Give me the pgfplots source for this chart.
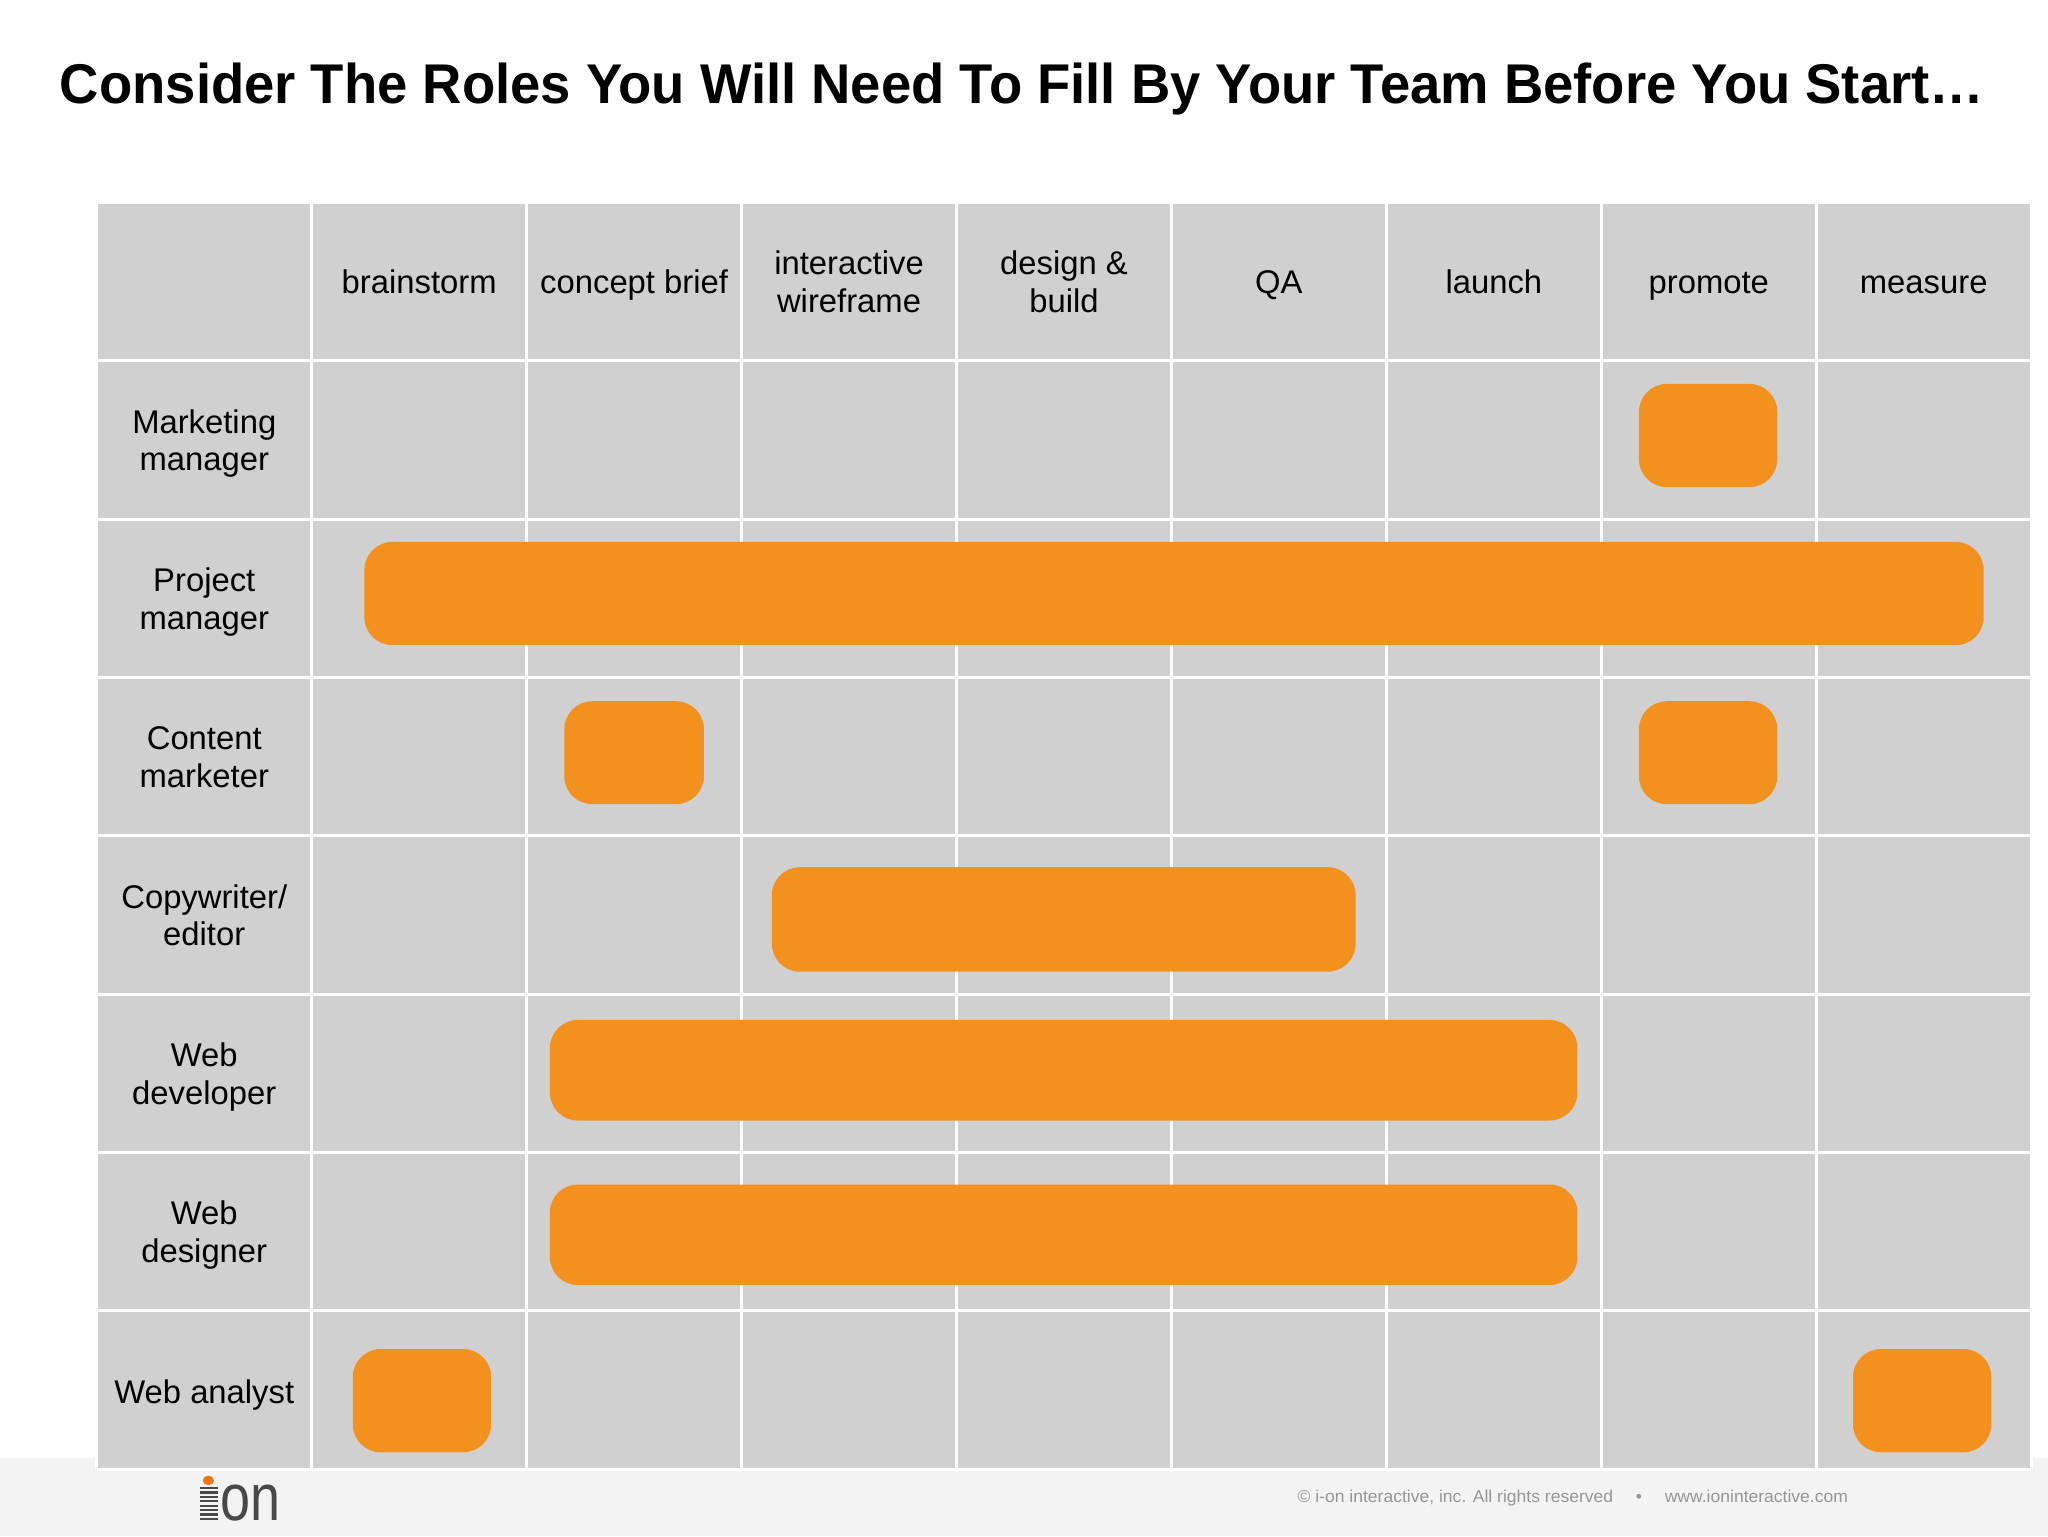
\documentclass[border=0pt]{standalone}
\usepackage{fontspec}
\setmainfont{Liberation Sans}
\usepackage{pgfplots}
\pgfplotsset{compat=1.18}
\usepackage{graphicx}
\definecolor{cellgray}{RGB}{208,208,209}
\definecolor{barorange}{RGB}{242,145,30}
\definecolor{footgray}{RGB}{243,243,244}
\definecolor{copygray}{RGB}{150,150,150}
\definecolor{logogray}{RGB}{72,72,70}
\tikzset{
  lab/.style={font=\fontsize{8.2}{9.4}\selectfont, align=center, text=black, yshift=-1.1pt},
  bar/.style={fill=barorange, draw=none, rounded corners=7pt},
}
\newcommand{\s}{\strut}
\begin{document}
\begin{tikzpicture}
\path[use as bounding box, fill=white] (0,0) rectangle (512pt,384pt);
\fill[footgray] (0,0) rectangle (512pt,19.5pt);
\begin{axis}[
  at={(24.2pt,16.7pt)}, anchor=south west,
  scale only axis, width=483.6pt, height=316.7pt,
  xmin=0, xmax=9, ymin=0, ymax=8, y dir=reverse,
  xtick={0,1,...,9}, ytick={0,1,...,8},
  xticklabels={}, yticklabels={},
  major tick length=0pt,
  grid=major,
  major grid style={draw=white, line width=0.7pt},
  axis line style={draw=none},
  axis background/.style={fill=cellgray},
]
% Marketing manager
\addplot[bar] coordinates {(7.175,1.472) (7.175,1.146) (7.819,1.146) (7.819,1.798) (7.175,1.798) (7.175,1.472)};
% Project manager
\addplot[bar] coordinates {(1.245,2.470) (1.245,2.144) (8.779,2.144) (8.779,2.796) (1.245,2.796) (1.245,2.470)};
% Content marketer
\addplot[bar] coordinates {(2.175,3.475) (2.175,3.150) (2.825,3.150) (2.825,3.800) (2.175,3.800) (2.175,3.475)};
\addplot[bar] coordinates {(7.175,3.475) (7.175,3.150) (7.819,3.150) (7.819,3.800) (7.175,3.800) (7.175,3.475)};
% Copywriter/editor
\addplot[bar] coordinates {(3.141,4.528) (3.141,4.198) (5.857,4.198) (5.857,4.858) (3.141,4.858) (3.141,4.528)};
% Web developer
\addplot[bar] coordinates {(2.108,5.480) (2.108,5.163) (6.889,5.163) (6.889,5.798) (2.108,5.798) (2.108,5.480)};
% Web designer
\addplot[bar] coordinates {(2.108,6.520) (2.108,6.202) (6.889,6.202) (6.889,6.837) (2.108,6.837) (2.108,6.520)};
% Web analyst
\addplot[bar] coordinates {(1.191,7.567) (1.191,7.241) (1.835,7.241) (1.835,7.893) (1.191,7.893) (1.191,7.567)};
\addplot[bar] coordinates {(8.171,7.567) (8.171,7.241) (8.815,7.241) (8.815,7.893) (8.171,7.893) (8.171,7.567)};
% column headers
\node[lab] at (axis cs:1.5,0.5) {\s brainstorm};
\node[lab] at (axis cs:2.5,0.5) {\s concept brief};
\node[lab] at (axis cs:3.5,0.5) {\s interactive\\wireframe\s};
\node[lab] at (axis cs:4.5,0.5) {\s design \&\\build\s};
\node[lab] at (axis cs:5.5,0.5) {\s QA};
\node[lab] at (axis cs:6.5,0.5) {\s launch};
\node[lab] at (axis cs:7.5,0.5) {\s promote};
\node[lab] at (axis cs:8.5,0.5) {\s measure};
% row labels
\node[lab] at (axis cs:0.5,1.5) {\s Marketing\\manager\s};
\node[lab] at (axis cs:0.5,2.5) {\s Project\\manager\s};
\node[lab] at (axis cs:0.5,3.5) {\s Content\\marketer\s};
\node[lab] at (axis cs:0.5,4.5) {\s Copywriter/\\editor\s};
\node[lab] at (axis cs:0.5,5.5) {\s Web\\developer\s};
\node[lab] at (axis cs:0.5,6.5) {\s Web\\designer\s};
\node[lab, yshift=-0.4pt] at (axis cs:0.5,7.5) {\s Web analyst};
\end{axis}
% title
\node[anchor=base, inner sep=0pt] at (255.5pt,358pt)
  {\resizebox{481pt}{\height}{\fontsize{14}{16}\selectfont\bfseries Consider The Roles You Will Need To Fill By Your Team Before You Start…}};
% footer text
\node[anchor=base west, inner sep=0pt, text=copygray] at (324.2pt,8.5pt)
  {\resizebox{137.6pt}{\height}{\fontsize{4.3}{5}\selectfont © i-on interactive, inc. All rights reserved\hspace{1.3em}•\hspace{1.3em}www.ioninteractive.com}};
% logo
\node[anchor=base west, inner sep=0pt, text=logogray] at (55pt,4pt)
  {\resizebox{15pt}{\height}{\fontsize{16.5}{18}\selectfont on}};
\foreach \k in {0,...,7} {
  \draw[logogray, line width=0.55pt] (50.1pt,{4.3pt+\k*1.1pt}) -- (54.4pt,{4.3pt+\k*1.1pt});
}
\fill[barorange!80!red] (52.1pt,13.9pt) ellipse (1.4pt and 1.2pt);
\end{tikzpicture}
\end{document}
